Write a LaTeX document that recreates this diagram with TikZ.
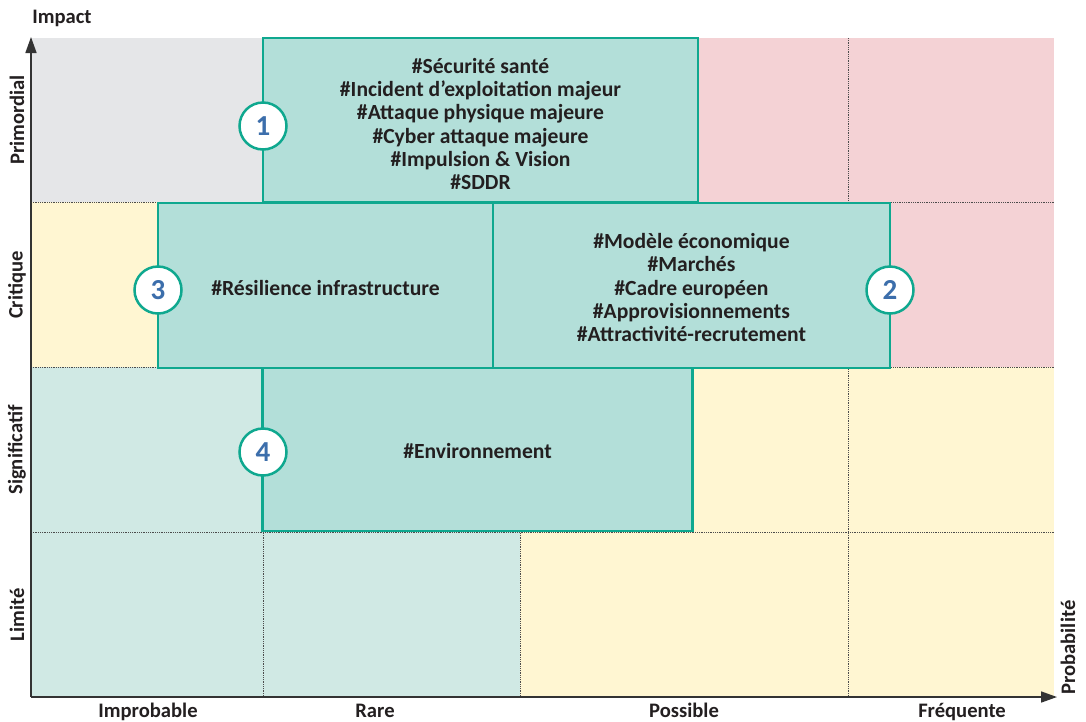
\documentclass[tikz,border=0pt]{standalone}
\usepackage{fontspec}
\setmainfont{Carlito}
\usetikzlibrary{arrows.meta}
\definecolor{cgrey}{HTML}{E5E6E8}
\definecolor{cred}{HTML}{F4D2D5}
\definecolor{cyellow}{HTML}{FFF6D2}
\definecolor{cteal}{HTML}{D0E9E4}
\definecolor{cbox}{HTML}{B3DFD9}
\definecolor{cborder}{HTML}{0FA88F}
\definecolor{cnum}{HTML}{3C6EAB}
\definecolor{ctext}{HTML}{231F20}
\definecolor{caxis}{HTML}{333333}
\tikzset{
  riskbox/.style={draw=cborder, line width=2.5pt, fill=cbox, rectangle, inner sep=0pt},
  risktext/.style={inner sep=0pt, align=center, text=ctext, font=\bfseries\fontsize{21.6}{23.2}\selectfont},
  numcircle/.style={draw=cborder, line width=2.5pt, fill=white, circle, minimum size=47pt,
    inner sep=0pt, text=cnum, font=\bfseries\fontsize{29}{29}\selectfont},
  gridline/.style={densely dotted, line width=0.8pt, draw=black!70},
  axislabel/.style={text=ctext, font=\bfseries\fontsize{20.6}{22}\selectfont},
  axisline/.style={draw=caxis, line width=1.6pt, -{Triangle[length=16pt,width=11pt]}}
}
\begin{document}
\begin{tikzpicture}[x=1pt,y=-1pt]
\useasboundingbox[fill=white] (0,0) rectangle (1086,721);
% background cells
\fill[cgrey] (31,38) rectangle (263,202);
\fill[cred] (263,38) rectangle (1054,202);
\fill[cyellow] (31,202) rectangle (263,367);
\fill[cred] (263,202) rectangle (1054,367);
\fill[cteal] (31,367) rectangle (263,532);
\fill[cyellow] (263,367) rectangle (1054,532);
\fill[cteal] (31,532) rectangle (520,697);
\fill[cyellow] (520,532) rectangle (1054,697);
% dotted grid
\draw[gridline] (31,202) -- (1054,202);
\draw[gridline] (31,367) -- (1054,367);
\draw[gridline] (31,532) -- (1054,532);
\draw[gridline] (263,38) -- (263,697);
\draw[gridline] (520,38) -- (520,697);
\draw[gridline] (848,38) -- (848,697);
% risk boxes
\node[riskbox, minimum width=435pt, minimum height=164pt] (b1) at (480.5,120) {};
\node[riskbox, minimum width=335pt, minimum height=165pt] (b3) at (325.5,285.5) {};
\node[riskbox, minimum width=397pt, minimum height=165pt] (b2) at (691.5,285.5) {};
\node[riskbox, minimum width=430pt, minimum height=163pt] (b4) at (477.5,449.5) {};
% box texts
\node[risktext] (t1) at (480.5,124)
  {\#Sécurité santé\\\#Incident d’exploitation majeur\\\#Attaque physique majeure\\\#Cyber attaque majeure\\\#Impulsion \& Vision\\\#SDDR};
\node[risktext] (t3) at (325.5,288) {\#Résilience infrastructure};
\node[risktext] (t2) at (691.5,287.5)
  {\#Modèle économique\\\#Marchés\\\#Cadre européen\\\#Approvisionnements\\\#Attractivité-recrutement};
\node[risktext] (t4) at (477.5,451) {\#Environnement};
% numbered circles
\node[numcircle] (c1) at (263,126) {1};
\node[numcircle] (c3) at (158,290) {3};
\node[numcircle] (c2) at (890,290) {2};
\node[numcircle] (c4) at (263,452) {4};
% axes
\coordinate (origin) at (31,697);
\coordinate (ytip) at (31,37);
\coordinate (xtip) at (1057,697);
\draw[axisline] (origin) -- (ytip);
\draw[axisline] (origin) -- (xtip);
% labels
\node[axislabel, anchor=base] (impact) at (62,23) {Impact};
\node[axislabel, rotate=90] (l1) at (17,120) {Primordial};
\node[axislabel, rotate=90] (l2) at (17,285) {Critique};
\node[axislabel, rotate=90] (l3) at (17,450) {Significatif};
\node[axislabel, rotate=90] (l4) at (17,615) {Limité};
\node[axislabel, anchor=base] (p1) at (148,717) {Improbable};
\node[axislabel, anchor=base] (p2) at (375,717) {Rare};
\node[axislabel, anchor=base] (p3) at (684,717) {Possible};
\node[axislabel, anchor=base] (p4) at (962,717) {Fréquente};
\node[axislabel, rotate=90, anchor=west] (prob) at (1068,698) {Probabilité};
\end{tikzpicture}
\end{document}
